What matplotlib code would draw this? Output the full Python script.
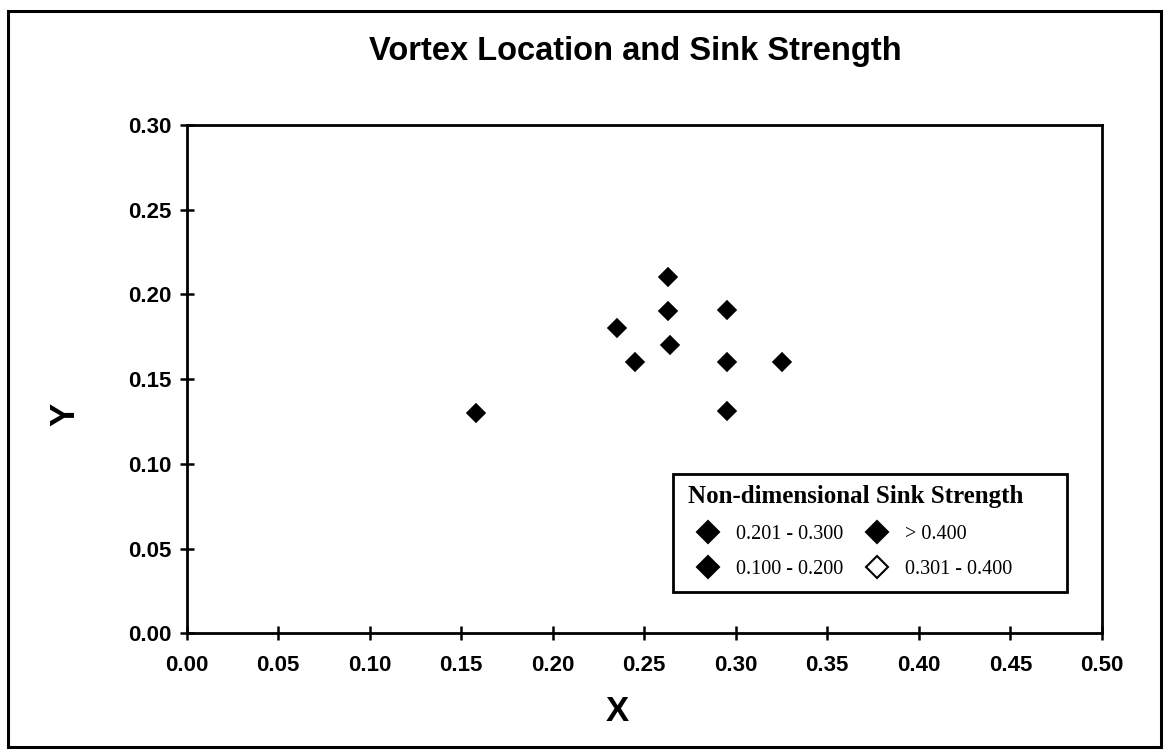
import matplotlib
matplotlib.use("Agg")
import matplotlib.pyplot as plt
from matplotlib.patches import Rectangle
from matplotlib.lines import Line2D

# Vortex centre positions (non-dimensional)
x_vals = [0.158, 0.235, 0.245, 0.263, 0.263, 0.264, 0.295, 0.295, 0.295, 0.325]
y_vals = [0.130, 0.180, 0.160, 0.210, 0.190, 0.170, 0.191, 0.160, 0.131, 0.160]

# Sink strength class per point
strength_class = ["0.201 - 0.300"] * len(x_vals)

# Legend classes, in the order they are listed (column by column)
classes = ["0.201 - 0.300", "0.100 - 0.200", "> 0.400", "0.301 - 0.400"]
class_fill = {"0.201 - 0.300": "black", "0.100 - 0.200": "black",
              "> 0.400": "black", "0.301 - 0.400": "white"}

x_ticks = [0.00, 0.05, 0.10, 0.15, 0.20, 0.25, 0.30, 0.35, 0.40, 0.45, 0.50]
y_ticks = [0.00, 0.05, 0.10, 0.15, 0.20, 0.25, 0.30]

plt.rcParams['font.family'] = ['Liberation Sans', 'DejaVu Sans']

fig = plt.figure(figsize=(11.66, 7.53), dpi=100)
ax = fig.add_axes([0.160, 0.159, 0.785, 0.675])

for cls in classes:
    xs = [x for x, c in zip(x_vals, strength_class) if c == cls]
    ys = [y for y, c in zip(y_vals, strength_class) if c == cls]
    ax.plot(xs, ys, linestyle='none', marker='D', markersize=9.5,
            markerfacecolor=class_fill[cls], markeredgecolor='black',
            markeredgewidth=1.2)

ax.set_xlim(0, 0.5)
ax.set_ylim(0, 0.3)
ax.set_xticks(x_ticks)
ax.set_yticks(y_ticks)
ax.set_xticklabels([f"{v:.2f}" for v in x_ticks])
ax.set_yticklabels([f"{v:.2f}" for v in y_ticks])
ax.tick_params(direction='inout', length=10, width=1.8, labelsize=16,
               colors='black')
ax.tick_params(axis='x', pad=11)
ax.tick_params(axis='y', pad=6)
for lab in ax.get_xticklabels() + ax.get_yticklabels():
    lab.set_fontweight('semibold')
for sp in ax.spines.values():
    sp.set_linewidth(2)
    sp.set_color('black')

ax.set_xlabel("X", fontsize=25, fontweight='bold')
ax.xaxis.set_label_coords(0.471, -0.121)
ax.set_ylabel("Y", fontsize=25, fontweight='bold')
ax.yaxis.set_label_coords(-0.115, 0.43)

fig.text(0.545, 0.931, "Vortex Location and Sink Strength", ha='center',
         va='center', fontsize=23.5, fontweight='bold')

# Legend frame drawn as its own box, legend contents placed inside it
ax.add_patch(Rectangle((0.531, 0.081), 0.431, 0.232, transform=ax.transAxes,
                       facecolor='white', edgecolor='black', linewidth=2,
                       zorder=4))

handles = [Line2D([], [], linestyle='none', marker='D', markersize=11.5,
                  markerfacecolor=class_fill[c], markeredgecolor='black',
                  markeredgewidth=1.5) for c in classes]
leg = ax.legend(handles, classes, ncol=2, loc='upper left',
                bbox_to_anchor=(0.5475, 0.292), borderaxespad=0,
                frameon=False, handlelength=2.0,
                handletextpad=0.4, columnspacing=0.65, borderpad=0,
                labelspacing=0.8,
                title="Non-dimensional Sink Strength",
                prop={'family': 'Liberation Serif', 'size': 14.5},
                title_fontproperties={'family': 'Liberation Serif',
                                      'size': 18, 'weight': 'bold'})
leg.set_zorder(5)
leg._legend_box.align = 'left'
leg._legend_box.sep = 12

# Outer chart border
fig.patches.append(Rectangle((0.007, 0.008), 0.989, 0.978,
                             transform=fig.transFigure, fill=False,
                             edgecolor='black', linewidth=2.2))

fig.savefig("out.png", dpi=100, facecolor='white')
